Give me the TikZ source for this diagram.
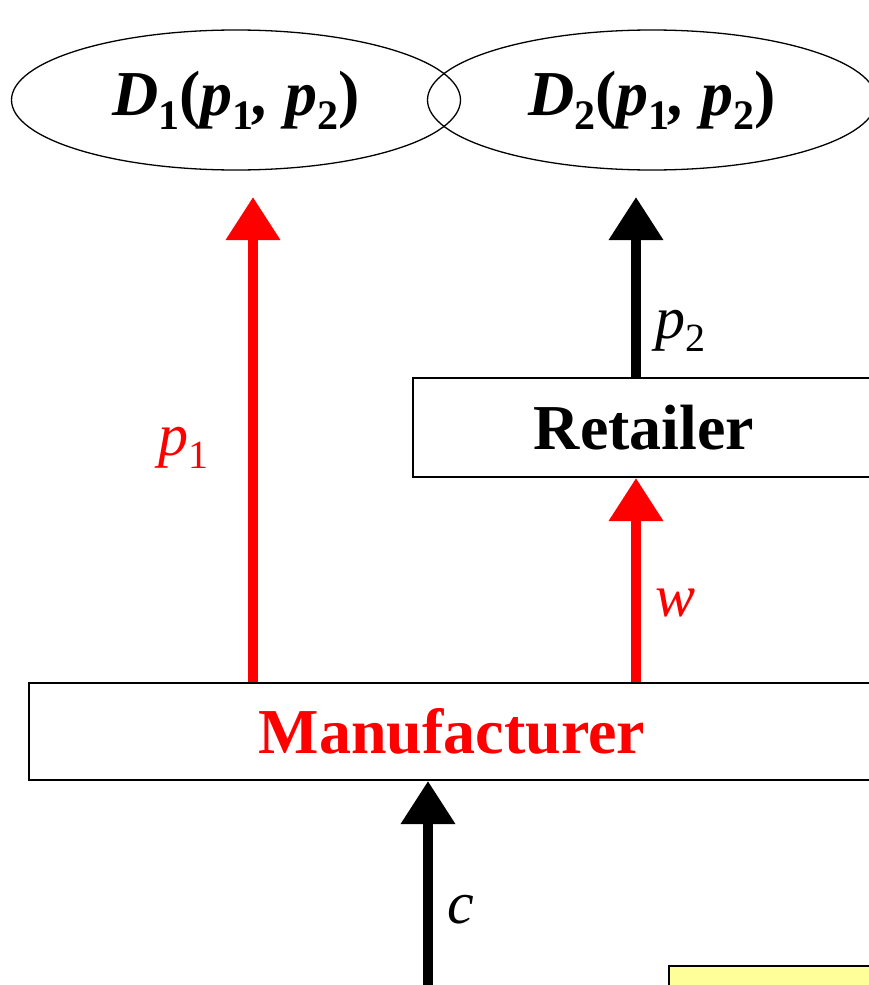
\documentclass[tikz,border=0pt]{standalone}
\usepackage{fontspec}
\setmainfont{Liberation Serif}[
  BoldFont={* Bold},
  ItalicFont={* Italic},
  BoldItalicFont={* Bold Italic}]
\usetikzlibrary{shapes.geometric,arrows.meta}
\definecolor{pred}{RGB}{255,0,0}
\definecolor{noteyellow}{RGB}{255,255,153}
\newcommand\mysub[1]{\raisebox{-0.22em}{\fontsize{42}{42}\selectfont\upshape #1}}
\newcommand\lsub[1]{\raisebox{-0.22em}{\fontsize{40}{40}\selectfont\upshape #1}}
\newcommand\up[1]{{\upshape #1}}
\tikzset{
  dem/.style={ellipse,draw,line width=1.3pt,minimum width=449pt,minimum height=140pt,inner sep=0pt,
    font=\fontsize{64}{64}\selectfont\bfseries\itshape},
  agent/.style={rectangle,draw,line width=2pt,inner sep=0pt,font=\fontsize{64}{64}\selectfont\bfseries},
  flow/.style={line width=10pt,-{Triangle[width=52pt,length=43pt]}},
  lab/.style={font=\fontsize{60}{60}\selectfont\itshape,inner sep=0pt}
}
\begin{document}
\begin{tikzpicture}[x=1pt,y=-1pt]
\useasboundingbox (0,0) rectangle (869,985);
\clip (0,0) rectangle (869,985);
\node[dem] (D1) at (236,100) {D\mysub{1}\up{(}p\mysub{1}, p\mysub{2}\up{)}};
\node[dem] (D2) at (652,100) {D\mysub{2}\up{(}p\mysub{1}, p\mysub{2}\up{)}};
\node[agent,minimum width=462pt,minimum height=99pt] (ret) at (644,427.5) {Retailer};
\node[agent,minimum width=846pt,minimum height=97pt,text=pred] (mfr) at (452,731.5) {Manufacturer};
\node[rectangle,draw,line width=2pt,fill=noteyellow,anchor=north west,minimum width=250pt,minimum height=60pt] (note) at (668,965) {};
\coordinate (tip1) at (253,197);
\coordinate (tip2) at (636,197);
\coordinate (cbot) at (428,990);
\draw[flow,pred] (mfr.north -| tip1) -- (tip1);
\draw[flow,black] (ret.north -| tip2) -- (tip2);
\draw[flow,pred] (mfr.north -| tip2) -- (ret.south -| tip2);
\draw[flow,black] (cbot) -- (mfr.south -| cbot);
\node[lab,text=pred] (lp1) at (183,448) {p\lsub{1}};
\node[lab] (lp2) at (680,331) {p\lsub{2}};
\node[lab,text=pred] (lw) at (676,603) {w};
\node[lab] (lc) at (461,910) {c};
\end{tikzpicture}
\end{document}
